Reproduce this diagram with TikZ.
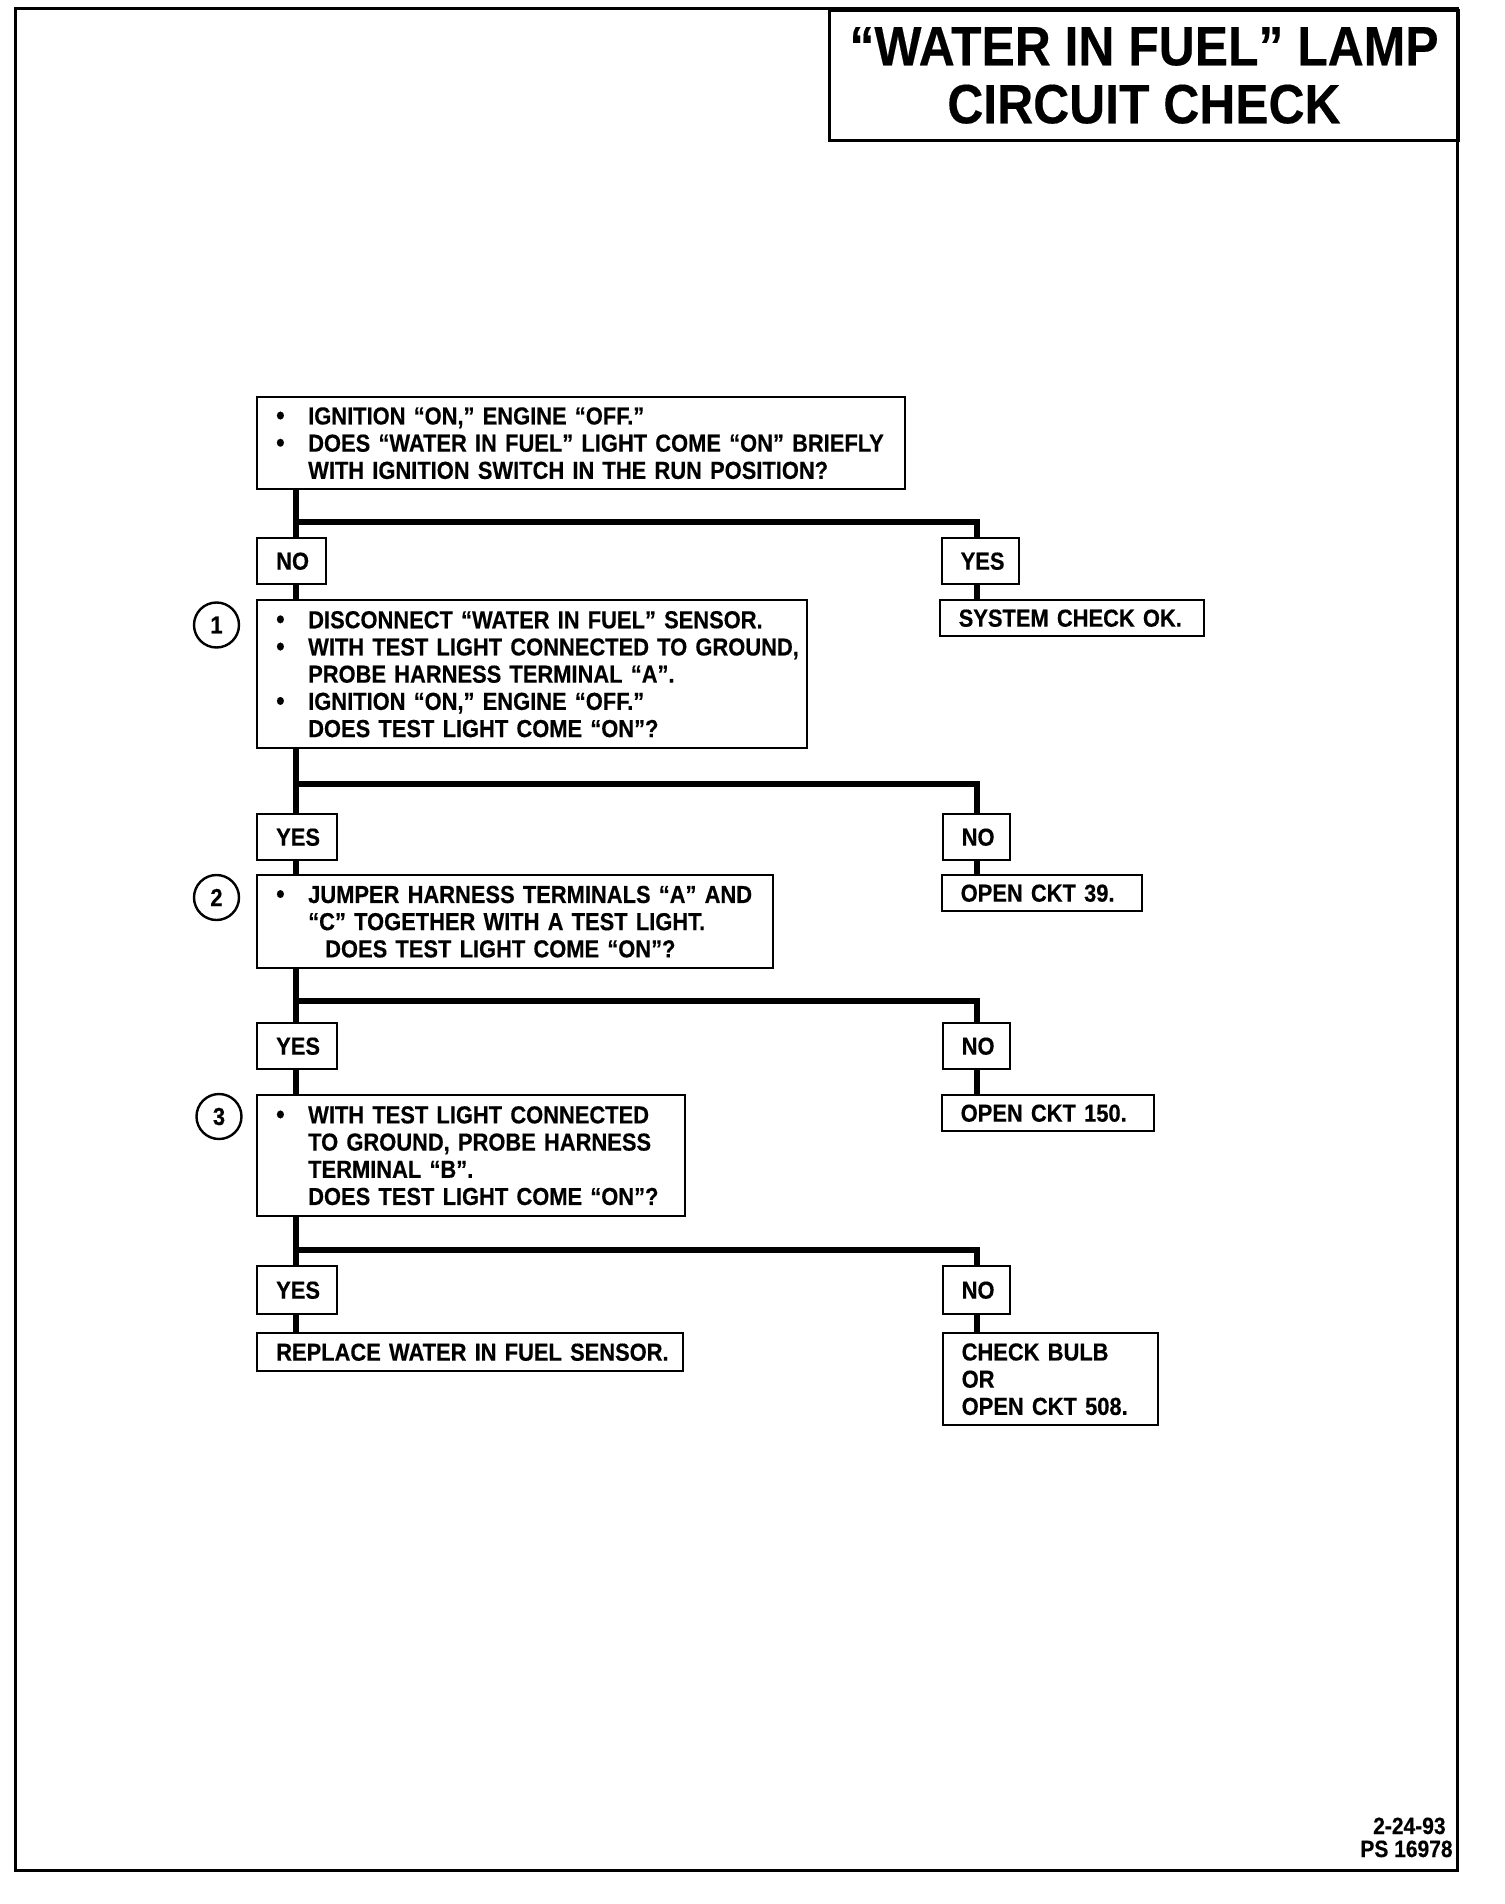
\documentclass[tikz,border=0pt]{standalone}
\usepackage{graphicx}
\usepackage{fontspec}
\newfontfamily\hv[FakeStretch=0.89, FakeBold=0.4]{Liberation Sans Bold}
\newfontfamily\hvt[FakeStretch=0.9, FakeBold=0.3]{Liberation Sans Bold}
\newcommand\bodyfont{\hv\fontsize{12.3}{13.6}\selectfont}
\newcommand\titlefont{\hvt\fontsize{27.7}{29}\selectfont}
\newcommand\footfont{\hv\fontsize{11.8}{12}\selectfont}
\newcommand\Bul[1]{\mbox{\makebox[16pt][l]{\scalebox{1.1}{•}}#1}}
\newcommand\Ind[2][0pt]{\mbox{\hspace*{\dimexpr16pt+#1\relax}#2}}
\newcommand\One[1]{\mbox{#1}}
\begin{document}
\begin{tikzpicture}[x=0.5pt,y=-0.5pt,
  box/.style={draw, line width=1.2pt, anchor=north west, align=left, inner ysep=0pt, inner xsep=9.5pt, font=\bodyfont},
  trunk/.style={line width=3pt},
  num/.style={draw, circle, line width=1.2pt, minimum size=22.5pt, inner sep=0pt, font=\bodyfont}]
\useasboundingbox (0,0) rectangle (1504,1904);
% outer frame
\draw[line width=1.5pt] (15,9) rectangle (1457,1870);
% title
\node[draw, line width=1.5pt, anchor=north west, minimum width=314.5pt, minimum height=65pt,
      align=center, font=\titlefont, inner sep=0pt] (title) at (828,9)
      {“WATER IN FUEL” LAMP\\CIRCUIT CHECK};
% step 0
\node[box, text width=305pt, minimum height=46pt] (q0) at (256,396)
 {\Bul{IGNITION “ON,” ENGINE “OFF.”}\\\Bul{DOES “WATER IN FUEL” LIGHT COME “ON” BRIEFLY}\\\Ind{WITH IGNITION SWITCH IN THE RUN POSITION?}};
\node[box, text width=15.5pt, minimum height=23pt] (no1) at (256,537) {\One{NO}};
\node[box, text width=19.5pt, minimum height=23pt] (yes1) at (940.5,537) {\One{YES}};
\node[box, text width=113pt, minimum height=18pt] (sys) at (938.5,599) {\One{SYSTEM CHECK OK.}};
% step 1
\node[num] (c1) at (216.5,625) {1};
\node[box, text width=256pt, minimum height=74pt] (q1) at (256,599)
 {\Bul{DISCONNECT “WATER IN FUEL” SENSOR.}\\\Bul{WITH TEST LIGHT CONNECTED TO GROUND,}\\\Ind{PROBE HARNESS TERMINAL “A”.}\\\Bul{IGNITION “ON,” ENGINE “OFF.”}\\\Ind{DOES TEST LIGHT COME “ON”?}};
\node[box, text width=21pt, minimum height=23pt] (yes2) at (256,813) {\One{YES}};
\node[box, text width=14.5pt, minimum height=23pt] (no2) at (941.5,813) {\One{NO}};
\node[box, text width=81pt, minimum height=18pt] (ckt39) at (940.5,874) {\One{OPEN CKT 39.}};
% step 2
\node[num] (c2) at (216.5,897.5) {2};
\node[box, text width=239pt, minimum height=46.5pt] (q2) at (256,874)
 {\Bul{JUMPER HARNESS TERMINALS “A” AND}\\\Ind{“C” TOGETHER WITH A TEST LIGHT.}\\\Ind[8.5pt]{DOES TEST LIGHT COME “ON”?}};
\node[box, text width=21pt, minimum height=23pt] (yes3) at (256,1022) {\One{YES}};
\node[box, text width=14.5pt, minimum height=23pt] (no3) at (941.5,1022) {\One{NO}};
\node[box, text width=87pt, minimum height=18pt] (ckt150) at (940.5,1094) {\One{OPEN CKT 150.}};
% step 3
\node[num] (c3) at (219,1116.5) {3};
\node[box, text width=195pt, minimum height=60.5pt] (q3) at (256,1094)
 {\Bul{WITH TEST LIGHT CONNECTED}\\\Ind{TO GROUND, PROBE HARNESS}\\\Ind{TERMINAL “B”.}\\\Ind{DOES TEST LIGHT COME “ON”?}};
\node[box, text width=21pt, minimum height=24pt] (yes4) at (256,1265) {\One{YES}};
\node[box, text width=14.5pt, minimum height=24pt] (no4) at (941.5,1265) {\One{NO}};
\node[box, text width=194pt, minimum height=19pt] (repl) at (256,1332) {\One{REPLACE WATER IN FUEL SENSOR.}};
\node[box, text width=88.5pt, minimum height=46pt] (bulb) at (941.5,1332) {\One{CHECK BULB}\\\One{OR}\\\One{OPEN CKT 508.}};
% footer
\node[anchor=base east, font=\footfont, inner sep=0pt] (date) at (1446,1834) {2-24-93};
\node[anchor=base east, font=\footfont, inner sep=0pt] (ps) at (1453,1857) {PS 16978};
% connectors
\coordinate (tx) at (296,0);
\coordinate (rx) at (977,0);
\coordinate (h1) at (0,521.5);
\coordinate (h2) at (0,784);
\coordinate (h3) at (0,1000.5);
\coordinate (h4) at (0,1249.5);
\draw[trunk] (q0.south -| tx) -- (no1.north -| tx);
\draw[trunk] (tx |- h1) -| (yes1.north -| rx);
\draw[trunk] (no1.south -| tx) -- (q1.north -| tx);
\draw[trunk] (yes1.south -| rx) -- (sys.north -| rx);
\draw[trunk] (q1.south -| tx) -- (yes2.north -| tx);
\draw[trunk] (tx |- h2) -| (no2.north -| rx);
\draw[trunk] (yes2.south -| tx) -- (q2.north -| tx);
\draw[trunk] (no2.south -| rx) -- (ckt39.north -| rx);
\draw[trunk] (q2.south -| tx) -- (yes3.north -| tx);
\draw[trunk] (tx |- h3) -| (no3.north -| rx);
\draw[trunk] (yes3.south -| tx) -- (q3.north -| tx);
\draw[trunk] (no3.south -| rx) -- (ckt150.north -| rx);
\draw[trunk] (q3.south -| tx) -- (yes4.north -| tx);
\draw[trunk] (tx |- h4) -| (no4.north -| rx);
\draw[trunk] (yes4.south -| tx) -- (repl.north -| tx);
\draw[trunk] (no4.south -| rx) -- (bulb.north -| rx);
\end{tikzpicture}
\end{document}
